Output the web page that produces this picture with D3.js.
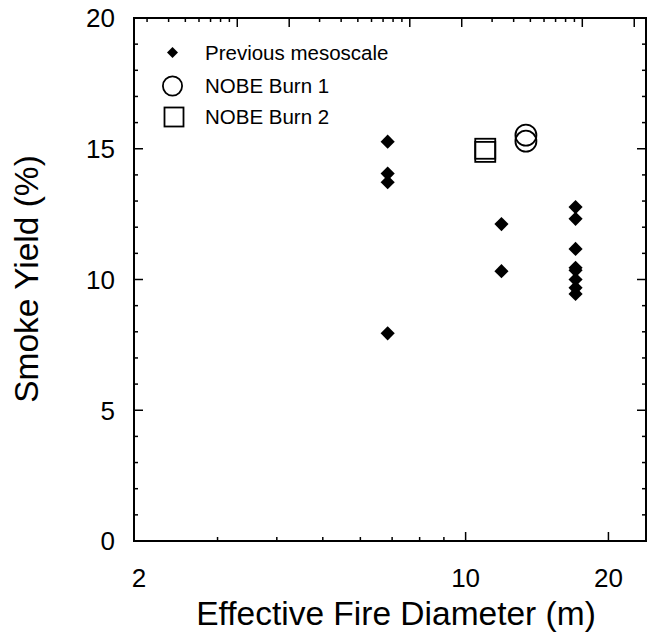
<!DOCTYPE html>
<html>
<head>
<meta charset="utf-8">
<script src="https://cdn.jsdelivr.net/npm/d3@7"></script>
<style>
  html, body { margin: 0; padding: 0; background: #fff; }
  svg { display: block; }
  text { font-family: "Liberation Sans", Arial, Helvetica, sans-serif; fill: #000; }
</style>
</head>
<body>
<svg id="chart" width="652" height="635"></svg>
<script>
// ---- data ----
const xDomain = [2, 24];
const yDomain = [0, 20];
const topDomain = [0.252, 234];
const xTickLabels = [2, 10, 20];
const yTickLabels = [0, 5, 10, 15, 20];

const mesoDiameter = [6.85, 6.85, 6.85, 6.85, 11.9, 11.9, 17.05, 17.05, 17.05, 17.05, 17.05, 17.05, 17.05, 17.05];
const mesoYield    = [15.27, 14.05, 13.72, 7.94, 12.12, 10.32, 12.77, 12.32, 11.17, 10.45, 10.35, 10.0, 9.68, 9.45];
const burn1Diameter = [13.4, 13.4];
const burn1Yield    = [15.52, 15.29];
const burn2Diameter = [11.0, 11.0];
const burn2Yield    = [15.0, 14.88];

const legendLabels = ["Previous mesoscale", "NOBE Burn 1", "NOBE Burn 2"];
const xTitle = "Effective Fire Diameter (m)";
const yTitle = "Smoke Yield (%)";

// ---- layout ----
const svg = d3.select("#chart");
const L = 134, R = 646, T = 18, B = 541;

const x = d3.scaleLog().domain(xDomain).range([L, R]);
const xTop = d3.scaleLog().domain(topDomain).range([L, R]);
const y = d3.scaleLinear().domain(yDomain).range([B, T]);

const g = svg.append("g");

// frame
g.append("rect").attr("x", L).attr("y", T).attr("width", R - L).attr("height", B - T)
  .attr("fill", "none").attr("stroke", "#000").attr("stroke-width", 2);

// bottom ticks (inward)
const xt = x.ticks().filter(v => v > xDomain[0] && v < xDomain[1]);
g.selectAll(".xb").data(xt).join("line")
  .attr("x1", d => x(d)).attr("x2", d => x(d))
  .attr("y1", B).attr("y2", d => B - (xTickLabels.includes(d) ? 9 : 4))
  .attr("stroke", "#000").attr("stroke-width", 1.5);

// top ticks (inward)
const tt = xTop.ticks().filter(v => xTop(v) > L + 1 && xTop(v) < R - 1);
const isMajorTop = v => { const m = v / Math.pow(10, Math.floor(Math.log10(v) + 1e-9)); return Math.abs(m - 1) < 1e-6 || Math.abs(m - 2) < 1e-6; };
g.selectAll(".xt").data(tt).join("line")
  .attr("x1", d => xTop(d)).attr("x2", d => xTop(d))
  .attr("y1", T).attr("y2", d => T + (isMajorTop(d) ? 9 : 4))
  .attr("stroke", "#000").attr("stroke-width", 1.5);

// left / right ticks
const yt = d3.range(yDomain[0] + 1, yDomain[1], 1);
g.selectAll(".yl").data(yt).join("line")
  .attr("x1", L).attr("x2", d => L + (d % 5 === 0 ? 9 : 4))
  .attr("y1", d => y(d)).attr("y2", d => y(d))
  .attr("stroke", "#000").attr("stroke-width", 1.5);
g.selectAll(".yr").data(yt).join("line")
  .attr("x1", R).attr("x2", d => R - (d % 5 === 0 ? 9 : 4))
  .attr("y1", d => y(d)).attr("y2", d => y(d))
  .attr("stroke", "#000").attr("stroke-width", 1.5);

// tick labels
g.selectAll(".xl").data(xTickLabels).join("text")
  .attr("x", d => x(d) + (d === 2 ? 5 : 0)).attr("y", 587)
  .attr("text-anchor", "middle").attr("font-size", 26).text(d => d);
g.selectAll(".ylab").data(yTickLabels).join("text")
  .attr("x", 115).attr("y", d => y(d)).attr("dy", "0.36em")
  .attr("text-anchor", "end").attr("font-size", 26).text(d => d);

// axis titles
g.append("text").attr("x", 396).attr("y", 625).attr("text-anchor", "middle")
  .attr("font-size", 33.5).text(xTitle);
g.append("text").attr("transform", "translate(38,279) rotate(-90)")
  .attr("text-anchor", "middle").attr("font-size", 33.5).text(yTitle);

// data
const diamond = d3.symbol().type(d3.symbolSquare).size(100);
const meso = mesoDiameter.map((d, i) => ({ d, v: mesoYield[i] }));
g.selectAll(".meso").data(meso).join("path")
  .attr("d", diamond)
  .attr("transform", p => `translate(${x(p.d)},${y(p.v)}) rotate(45)`)
  .attr("fill", "#000");

const b1 = burn1Diameter.map((d, i) => ({ d, v: burn1Yield[i] }));
g.selectAll(".b1").data(b1).join("circle")
  .attr("cx", p => x(p.d)).attr("cy", p => y(p.v)).attr("r", 10.5)
  .attr("fill", "none").attr("stroke", "#000").attr("stroke-width", 1.8);

const b2 = burn2Diameter.map((d, i) => ({ d, v: burn2Yield[i] }));
const sq = 20;
g.selectAll(".b2").data(b2).join("rect")
  .attr("x", p => x(p.d) - sq / 2).attr("y", p => y(p.v) - sq / 2)
  .attr("width", sq).attr("height", sq)
  .attr("fill", "none").attr("stroke", "#000").attr("stroke-width", 1.8);

// legend
const lg = g.append("g");
const rowsY = [52.5, 86, 117];
lg.append("path").attr("d", d3.symbol().type(d3.symbolSquare).size(60))
  .attr("transform", `translate(172.5,${rowsY[0]}) rotate(45)`).attr("fill", "#000");
lg.append("circle").attr("cx", 172.5).attr("cy", rowsY[1]).attr("r", 9.6)
  .attr("fill", "none").attr("stroke", "#000").attr("stroke-width", 1.8);
lg.append("rect").attr("x", 174 - 9.5).attr("y", rowsY[2] - 9.5).attr("width", 19).attr("height", 19)
  .attr("fill", "none").attr("stroke", "#000").attr("stroke-width", 1.8);
lg.selectAll(".lt").data(legendLabels).join("text")
  .attr("x", 205).attr("y", (d, i) => rowsY[i]).attr("dy", "0.36em")
  .attr("font-size", 20.5).text(d => d);
</script>
</body>
</html>
